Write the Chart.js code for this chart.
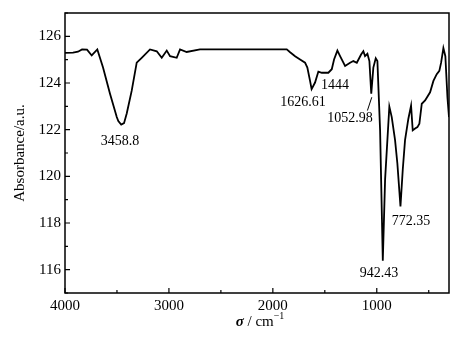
<!DOCTYPE html>
<html>
<head>
<meta charset="utf-8">
<script src="https://cdn.jsdelivr.net/npm/chart.js@4/dist/chart.umd.min.js"></script>
<style>
  html, body { margin: 0; padding: 0; background: #fff; }
  #wrap { width: 466px; height: 339px; position: relative; }
</style>
</head>
<body>
<div id="wrap"><canvas id="irChart"></canvas></div>
<script>
// wavenumber (cm-1) and absorbance
const wavenumbers = [4000, 3923, 3875, 3836, 3788, 3743, 3689, 3634, 3567, 3502, 3487, 3459, 3432, 3406, 3358, 3310, 3262,
    3182, 3117, 3069, 3021, 2989, 2925, 2893, 2829, 2701, 2383, 2027, 1866, 1834, 1786, 1738, 1690, 1668,
    1642, 1627, 1594, 1562, 1529, 1466, 1433, 1411, 1379, 1353, 1305, 1257, 1225, 1192, 1151, 1129, 1113,
    1090, 1071, 1053, 1033, 1010, 994, 968, 942, 920, 879, 856, 824, 802, 772, 750, 728, 696, 670, 654,
    631, 609, 590, 567, 535, 487, 455, 423, 398, 381, 359, 340, 320, 305];
const absorbance = [125.29, 125.30, 125.34, 125.44, 125.43, 125.18, 125.44, 124.66, 123.54, 122.54, 122.37, 122.22, 122.28, 122.69,
    123.67, 124.87, 125.08, 125.44, 125.36, 125.08, 125.39, 125.15, 125.08, 125.44, 125.33, 125.44, 125.44,
    125.44, 125.44, 125.32, 125.15, 125.01, 124.87, 124.66, 124.09, 123.74, 124.02, 124.49, 124.44, 124.44,
    124.59, 125.01, 125.39, 125.15, 124.73, 124.87, 124.94, 124.87, 125.22, 125.36, 125.15, 125.25, 124.94,
    123.54, 124.66, 125.06, 124.94, 121.97, 116.38, 119.86, 122.99, 122.54, 121.55, 120.56, 118.71, 120.28,
    121.55, 122.47, 123.03, 121.97, 122.05, 122.11, 122.26, 123.11, 123.25, 123.60, 124.09, 124.38, 124.52,
    124.87, 125.50, 125.15, 123.39, 122.54];

const xTicks = [500, 1000, 1500, 2000, 2500, 3000, 3500, 4000];
const yTicks = [115, 116, 117, 118, 119, 120, 121, 122, 123, 124, 125, 126, 127];

// peak labels (text, anchor wavenumber, anchor absorbance)
const peakLabels = [
    { text: '3458.8', x: 3471, y: 121.51 },
    { text: '1626.61', x: 1709, y: 123.17 },
    { text: '1444', x: 1401, y: 123.88 },
    { text: '1052.98', x: 1257, y: 122.47 },
    { text: '772.35', x: 670, y: 118.09 },
    { text: '942.43', x: 978, y: 115.83 }
];
const leader = [[1090, 122.82], [1048, 123.39]];

const SERIF = "'Liberation Serif', 'Times New Roman', serif";

const decorPlugin = {
    id: 'decor',
    afterDraw(chart) {
        const { ctx, chartArea: a, scales: { x, y } } = chart;
        ctx.save();
        ctx.strokeStyle = '#000';
        ctx.fillStyle = '#000';

        // frame
        ctx.lineWidth = 1.5;
        ctx.strokeRect(a.left, a.top, a.right - a.left, a.bottom - a.top);

        // inward ticks
        ctx.lineWidth = 1.2;
        ctx.beginPath();
        xTicks.forEach(v => {
            const px = x.getPixelForValue(v);
            const len = v % 1000 === 0 ? 5 : 3;
            ctx.moveTo(px, a.bottom);
            ctx.lineTo(px, a.bottom - len);
        });
        yTicks.forEach(v => {
            const py = y.getPixelForValue(v);
            const len = v % 2 === 0 ? 5 : 3;
            ctx.moveTo(a.left, py);
            ctx.lineTo(a.left + len, py);
        });
        ctx.stroke();

        // peak labels
        ctx.font = '14px ' + SERIF;
        ctx.textAlign = 'center';
        ctx.textBaseline = 'middle';
        peakLabels.forEach(l => {
            ctx.fillText(l.text, x.getPixelForValue(l.x), y.getPixelForValue(l.y));
        });
        ctx.lineWidth = 1;
        ctx.beginPath();
        ctx.moveTo(x.getPixelForValue(leader[0][0]), y.getPixelForValue(leader[0][1]));
        ctx.lineTo(x.getPixelForValue(leader[1][0]), y.getPixelForValue(leader[1][1]));
        ctx.stroke();

        // y title
        ctx.save();
        ctx.translate(20, (a.top + a.bottom) / 2);
        ctx.rotate(-Math.PI / 2);
        ctx.font = '15px ' + SERIF;
        ctx.fillText('Absorbance/a.u.', 0, 0);
        ctx.restore();

        // x title: italic sigma / cm^-1
        const cx = (a.left + a.right) / 2 + 3;
        const ty = 322;
        ctx.textAlign = 'left';
        const sig = 'σ';
        const mid = ' / cm';
        const sup = '−1';
        ctx.font = 'italic bold 15px ' + SERIF;
        const w1 = ctx.measureText(sig).width;
        ctx.font = '15px ' + SERIF;
        const w2 = ctx.measureText(mid).width;
        ctx.font = '10px ' + SERIF;
        const w3 = ctx.measureText(sup).width;
        let sx = cx - (w1 + w2 + w3) / 2;
        ctx.font = 'italic bold 15px ' + SERIF;
        ctx.fillText(sig, sx, ty);
        sx += w1;
        ctx.font = '15px ' + SERIF;
        ctx.fillText(mid, sx, ty);
        sx += w2;
        ctx.font = '10px ' + SERIF;
        ctx.fillText(sup, sx, ty - 6);
        ctx.restore();
    }
};

new Chart(document.getElementById('irChart'), {
    type: 'scatter',
    data: {
        datasets: [{
            data: wavenumbers.map((w, i) => ({ x: w, y: absorbance[i] })),
            showLine: true,
            borderColor: '#000',
            borderWidth: 1.8,
            pointRadius: 0,
            tension: 0
        }]
    },
    options: {
        responsive: true,
        maintainAspectRatio: false,
        animation: false,
        layout: { padding: { top: 11, right: 17, left: 0, bottom: 0 } },
        plugins: { legend: { display: false }, tooltip: { enabled: false } },
        scales: {
            x: {
                type: 'linear',
                reverse: true,
                min: 305,
                max: 4000,
                afterBuildTicks: s => { s.ticks = xTicks.map(v => ({ value: v })); },
                afterFit: s => { s.height = 46; },
                grid: { display: false, drawTicks: false },
                border: { display: false },
                ticks: {
                    color: '#000',
                    font: { family: SERIF, size: 15 },
                    padding: 4,
                    maxRotation: 0,
                    autoSkip: false,
                    callback: v => (v % 1000 === 0 ? v : '')
                }
            },
            y: {
                min: 115,
                max: 127,
                afterBuildTicks: s => { s.ticks = yTicks.map(v => ({ value: v })); },
                afterFit: s => { s.width = 65; },
                grid: { display: false, drawTicks: false },
                border: { display: false },
                ticks: {
                    color: '#000',
                    font: { family: SERIF, size: 15 },
                    padding: 4,
                    autoSkip: false,
                    callback: v => (v % 2 === 0 ? v : '')
                }
            }
        }
    },
    plugins: [decorPlugin]
});
</script>
</body>
</html>
